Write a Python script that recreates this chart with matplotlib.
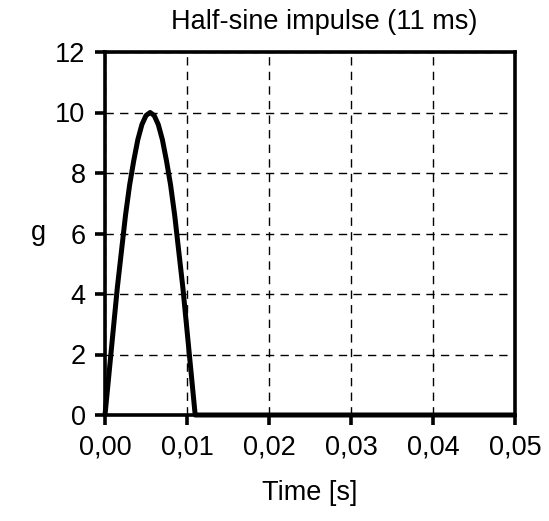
import matplotlib.pyplot as plt

# half-sine pulse (time in s, acceleration in g)
time_s = [0.0000, 0.0005, 0.0010, 0.0015, 0.0020, 0.0025, 0.0030, 0.0035,
          0.0040, 0.0045, 0.0050, 0.0055, 0.0060, 0.0065, 0.0070, 0.0075,
          0.0080, 0.0085, 0.0090, 0.0095, 0.0100, 0.0105, 0.0110, 0.0500]
accel_g = [0.0, 1.4, 2.8, 4.2, 5.4, 6.6, 7.6, 8.4,
           9.1, 9.6, 9.9, 10.0, 9.9, 9.6, 9.1, 8.4,
           7.6, 6.6, 5.4, 4.2, 2.8, 1.4, 0.0, 0.0]

x_ticks = [0.00, 0.01, 0.02, 0.03, 0.04, 0.05]
x_labels = ["0,00", "0,01", "0,02", "0,03", "0,04", "0,05"]
y_ticks = [0, 2, 4, 6, 8, 10, 12]

plt.rcParams["font.family"] = ["Liberation Sans", "DejaVu Sans"]
fs = 19.5

fig = plt.figure(figsize=(5.49, 5.21), dpi=100)
ax = fig.add_axes([105 / 549, 1 - 415 / 521, 410 / 549, 363 / 521])

ax.plot(time_s, accel_g, color="black", lw=3.6, clip_on=False, zorder=5,
        solid_joinstyle="round", solid_capstyle="butt")

ax.set_xlim(0, 0.05)
ax.set_ylim(0, 12)
ax.set_xticks(x_ticks)
ax.set_xticklabels(x_labels)
ax.set_yticks(y_ticks)

ax.grid(True, color="black", lw=1.0, linestyle=(0, (6, 4.5)))
ax.set_axisbelow(True)

for sp in ax.spines.values():
    sp.set_linewidth(2.6)
    sp.set_color("black")

ax.tick_params(direction="out", length=7, width=2.6, labelsize=fs,
               pad=7, colors="black")

ax.set_xlabel("Time [s]", fontsize=fs, labelpad=14)
ax.set_ylabel("g", fontsize=fs, rotation=0, labelpad=12, va="center")
fig.text(324 / 549, 1 - 22 / 521, "Half-sine impulse (11 ms)",
         fontsize=fs, ha="center", va="center")

fig.savefig("out.png", dpi=100)
